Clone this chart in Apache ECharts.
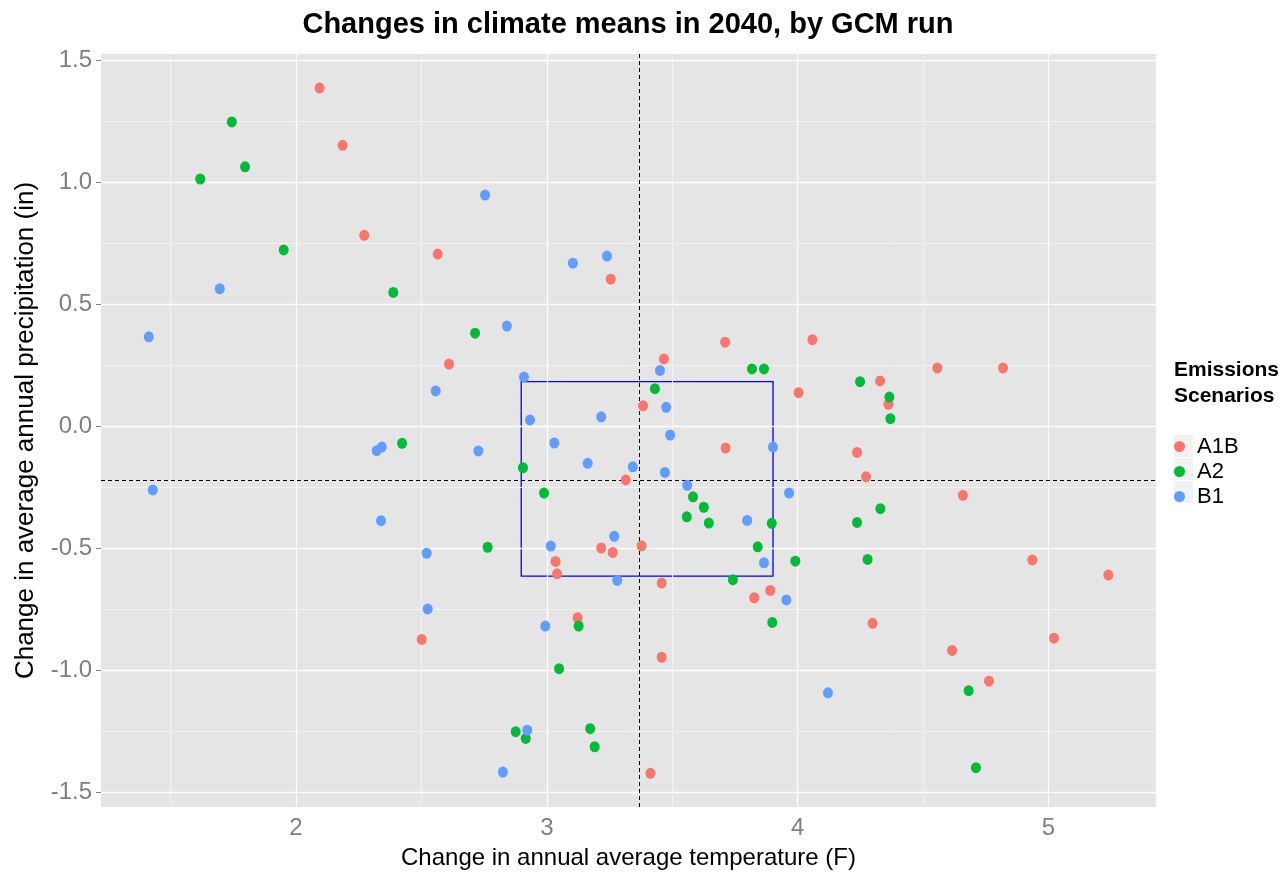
<!DOCTYPE html>
<html>
<head>
<meta charset="utf-8">
<script src="https://cdn.jsdelivr.net/npm/echarts@6/dist/echarts.min.js"></script>
<style>
html,body{margin:0;padding:0;background:#fff;}
#chart{width:1283px;height:875px;}
</style>
</head>
<body>
<div id="chart"></div>
<script>
// ---- data ----
var scenarios = ['A1B', 'A2', 'B1'];
var a1b = [
  [2.094, 1.388], [2.186, 1.153], [2.272, 0.784], [2.565, 0.707], [2.610, 0.256],
  [2.501, -0.873], [3.255, 0.604], [3.467, 0.277], [3.384, 0.085], [3.315, -0.219],
  [3.217, -0.498], [3.263, -0.516], [3.378, -0.489], [3.035, -0.553], [3.041, -0.604],
  [3.123, -0.784], [3.458, -0.642], [3.458, -0.946], [3.413, -1.422], [3.711, 0.346],
  [3.713, -0.088], [4.059, 0.356], [4.004, 0.139], [3.827, -0.702], [3.891, -0.672],
  [4.237, -0.106], [4.273, -0.206], [4.329, 0.187], [4.362, 0.091], [4.299, -0.807],
  [4.557, 0.240], [4.819, 0.240], [4.659, -0.282], [4.936, -0.547], [5.239, -0.609],
  [4.616, -0.918], [4.763, -1.044], [5.022, -0.868]
];
var a2 = [
  [1.744, 1.249], [1.618, 1.015], [1.797, 1.065], [1.951, 0.724], [2.388, 0.550],
  [2.423, -0.069], [2.714, 0.383], [2.764, -0.495], [2.905, -0.169], [2.989, -0.273],
  [3.127, -0.818], [3.049, -0.993], [2.876, -1.251], [2.916, -1.279], [3.173, -1.239],
  [3.191, -1.313], [3.431, 0.155], [3.583, -0.288], [3.558, -0.370], [3.626, -0.331],
  [3.646, -0.396], [3.818, 0.236], [3.866, 0.236], [3.742, -0.628], [3.841, -0.493],
  [3.897, -0.397], [3.899, -0.803], [3.991, -0.552], [4.249, 0.184], [4.366, 0.121],
  [4.370, 0.032], [4.237, -0.393], [4.330, -0.337], [4.279, -0.545], [4.682, -1.083],
  [4.711, -1.399]
];
var b1 = [
  [1.413, 0.368], [1.429, -0.260], [1.696, 0.565], [2.754, 0.949], [2.322, -0.099],
  [2.342, -0.084], [2.339, -0.386], [2.557, 0.146], [2.521, -0.520], [2.525, -0.748],
  [2.727, -0.100], [2.841, 0.412], [2.909, 0.203], [2.933, 0.027], [3.030, -0.068],
  [3.016, -0.490], [2.994, -0.818], [2.922, -1.245], [2.825, -1.417], [3.104, 0.670],
  [3.240, 0.699], [3.217, 0.040], [3.163, -0.151], [3.343, -0.165], [3.269, -0.450],
  [3.281, -0.631], [3.451, 0.230], [3.476, 0.079], [3.492, -0.035], [3.471, -0.188],
  [3.560, -0.241], [3.799, -0.385], [3.866, -0.559], [3.902, -0.084], [3.966, -0.273],
  [3.955, -0.711], [4.121, -1.092]
];
var meanX = 3.370;
var meanY = -0.218;
var boxX = [2.898, 3.902];
var boxY = [-0.613, 0.184];
var xTicks = [2, 3, 4, 5];
var xMinor = [1.5, 2.5, 3.5, 4.5];
var yTicks = [-1.5, -1.0, -0.5, 0.0, 0.5, 1.0, 1.5];
var yMinor = [-1.25, -0.75, -0.25, 0.25, 0.75, 1.25];
var xRange = [1.2225, 5.429];
var yRange = [-1.560, 1.5275];

// ---- styling ----
var FONT = 'Liberation Sans, Arial, sans-serif';
var colors = {A1B: '#F8766D', A2: '#00BA38', B1: '#619CFF'};
var seriesData = {A1B: a1b, A2: a2, B1: b1};

function gridLines(vals, axisKey) {
  return vals.map(function (v) { var o = {}; o[axisKey] = v; return o; });
}

var series = [];
// minor grid
series.push({
  type: 'line', data: [], silent: true, z: 1,
  markLine: {
    silent: true, symbol: 'none', animation: false, label: {show: false},
    lineStyle: {color: '#F2F2F2', width: 1, type: 'solid'},
    emphasis: {disabled: true},
    data: gridLines(xMinor, 'xAxis').concat(gridLines(yMinor, 'yAxis'))
  }
});
// major grid
series.push({
  type: 'line', data: [], silent: true, z: 2,
  markLine: {
    silent: true, symbol: 'none', animation: false, label: {show: false},
    lineStyle: {color: '#FFFFFF', width: 1.3, type: 'solid'},
    emphasis: {disabled: true},
    data: gridLines(xTicks, 'xAxis').concat(gridLines(yTicks, 'yAxis'))
  }
});
// blue box
series.push({
  type: 'line', data: [], silent: true, z: 3,
  markArea: {
    silent: true, animation: false, label: {show: false},
    itemStyle: {color: 'rgba(0,0,0,0)', borderColor: '#0000FF', borderWidth: 1.3},
    emphasis: {disabled: true},
    data: [[{xAxis: boxX[0], yAxis: boxY[1]}, {xAxis: boxX[1], yAxis: boxY[0]}]]
  }
});
scenarios.forEach(function (s) {
  series.push({
    name: s, type: 'scatter', z: 5,
    data: seriesData[s],
    symbol: 'circle', symbolSize: [10, 11],
    itemStyle: {color: colors[s], opacity: 1},
    emphasis: {disabled: true},
    animation: false
  });
});
// mean lines
series.push({
  type: 'line', data: [], silent: true, z: 6,
  markLine: {
    silent: true, symbol: 'none', animation: false, label: {show: false},
    lineStyle: {color: '#000000', width: 1, type: [4, 3]},
    emphasis: {disabled: true},
    data: [{xAxis: meanX}, {yAxis: meanY}]
  }
});

var chart = echarts.init(document.getElementById('chart'), null, {renderer: 'canvas'});
chart.setOption({
  animation: false,
  backgroundColor: '#FFFFFF',
  textStyle: {fontFamily: FONT},
  title: [{
    text: 'Changes in climate means in 2040, by GCM run',
    left: 628, top: 10, textAlign: 'center', padding: 0,
    textStyle: {fontFamily: FONT, fontWeight: 'bold', fontSize: 29, color: '#000'}
  }, {
    text: 'Emissions\nScenarios',
    left: 1174, top: 357, padding: 0,
    textStyle: {fontFamily: FONT, fontWeight: 'bold', fontSize: 21, lineHeight: 26, color: '#000'}
  }],
  legend: {
    data: scenarios,
    orient: 'vertical',
    left: 1174, top: 434,
    itemWidth: 19, itemHeight: 11, itemGap: 0,
    icon: 'circle',
    padding: 0,
    z: 10,
    selectedMode: false,
    textStyle: {fontFamily: FONT, fontSize: 22, lineHeight: 23, color: '#000', padding: [2, 0, 0, 3]}
  },
  graphic: scenarios.map(function (s, i) {
    return {
      type: 'rect', z: 0,
      shape: {x: 1174, y: 435 + i * 23, width: 19, height: 22},
      style: {fill: '#F2F2F2'}
    };
  }),
  grid: {
    left: 101, right: 127, top: 54, bottom: 68,
    show: true, backgroundColor: '#E5E5E5', borderWidth: 0,
    containLabel: false
  },
  xAxis: {
    type: 'value', min: xRange[0], max: xRange[1],
    name: 'Change in annual average temperature (F)',
    nameLocation: 'middle', nameGap: 39,
    nameTextStyle: {fontFamily: FONT, fontSize: 24, color: '#000'},
    splitLine: {show: false},
    axisLine: {show: false},
    axisTick: {show: true, length: 5, lineStyle: {color: '#7F7F7F'}, customValues: xTicks},
    axisLabel: {
      show: true, customValues: xTicks, margin: 9,
      fontFamily: FONT, fontSize: 24, color: '#7F7F7F',
      formatter: function (v) { return String(Math.round(v)); }
    }
  },
  yAxis: {
    type: 'value', min: yRange[0], max: yRange[1],
    name: 'Change in average annual precipitation (in)',
    nameLocation: 'middle', nameGap: 62, nameRotate: 90,
    nameTextStyle: {fontFamily: FONT, fontSize: 26, color: '#000'},
    splitLine: {show: false},
    axisLine: {show: false},
    axisTick: {show: true, length: 5, lineStyle: {color: '#7F7F7F'}, customValues: yTicks},
    axisLabel: {
      show: true, customValues: yTicks, margin: 9,
      fontFamily: FONT, fontSize: 24, color: '#7F7F7F',
      formatter: function (v) { return (Math.round(v * 10) / 10).toFixed(1); }
    }
  },
  series: series
});
</script>
</body>
</html>
